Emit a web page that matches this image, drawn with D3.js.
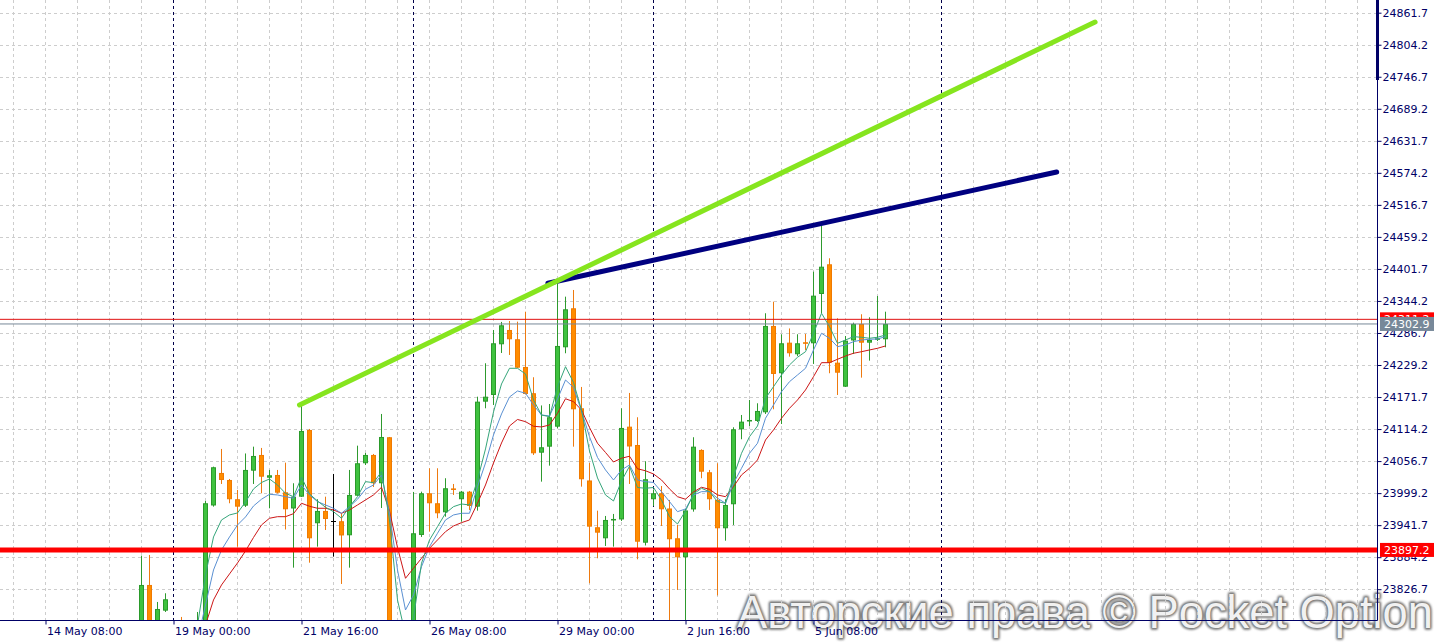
<!DOCTYPE html>
<html><head><meta charset="utf-8">
<script src="https://cdn.jsdelivr.net/npm/d3@7"></script>
<style>html,body{margin:0;padding:0;background:#fff;overflow:hidden}svg{display:block}</style>
</head><body>
<svg id="chart" width="1443" height="643"></svg>
<script>
// ---------- DATA ----------
// H4 bars; bar 0 = "14 May 08:00"; first drawn candle is bar 12
const firstBar = 12;
const opens = [23735.6,23834.3,23753.5,23788.2,23744.6,23753.5,23690.7,23717.6,23753.5,23977.0,
24035.4,24022.8,23988.2,23976.7,24039.5,24067.7,24026.9,24031.8,24000.7,23971.6,
23992.8,24112.6,23945.1,23967.2,23949.7,23948.7,23923.5,23994.6,24052.8,24067.7,
24016.9,24099.5,23681.7,23717.6,23699.7,23924.1,23998.9,23981.0,23964.8,24007.6,
23988.2,24001.8,23974.9,24163.4,24175.4,24266.4,24292.1,24275.4,24225.7,24178.5,
24071.8,24082.6,24118.5,24261.0,24331.0,24151.5,24021.9,23937.9,23918.1,23950.1,
23951.9,24118.5,24085.6,23910.2,23988.2,23998.9,23971.6,23918.1,23884.0,23969.9,
24076.7,24036.6,23986.9,23936.1,23979.2,24113.8,24128.2,24128.8,24144.3,24299.3,
24214.4,24269.3,24248.5,24270.0,24268.2,24356.7,24410.0,24233.4,24190.3,24273.2,
24302.9,24269.3,24275.4,24275.4];
const highs = [23886.9,23888.2,23803.8,23819.4,23762.5,23776.9,23735.6,23785.8,23985.1,24046.7,
24078.5,24024.6,24004.9,24070.4,24082.6,24080.3,24040.8,24040.8,24053.9,24016.9,
24157.4,24114.4,23988.2,23992.8,24033.6,23963.6,24040.8,24084.4,24071.3,24069.5,
24141.3,24100.0,23735.6,23753.5,24001.3,24001.8,24043.8,24043.8,24025.9,24015.6,
24003.1,24003.1,24172.3,24232.3,24292.1,24306.5,24308.2,24307.0,24324.9,24207.2,
24156.6,24159.2,24375.9,24351.9,24363.9,24189.8,24053.3,23967.7,23958.2,23961.8,
24151.5,24179.0,24135.4,24056.4,24005.8,24012.0,23986.9,23942.0,23970.7,24099.5,
24077.9,24040.8,24052.8,23988.2,24117.4,24139.5,24166.4,24160.5,24322.1,24342.9,
24284.4,24294.8,24284.4,24284.9,24396.7,24478.8,24420.8,24313.1,24281.3,24305.2,
24320.3,24314.9,24353.1,24324.9];
const lows = [23717.6,23708.6,23735.6,23785.8,23699.7,23690.7,23672.7,23699.7,23735.6,23974.9,
24015.6,23981.0,23903.1,23974.3,24015.6,23998.9,23972.0,23998.6,23933.9,23865.4,
23992.3,23874.3,23903.1,23933.0,23885.1,23836.1,23865.4,23994.1,24049.7,24010.2,
23972.5,23663.8,23645.8,23663.8,23681.7,23920.5,23930.0,23954.1,23956.9,23995.9,
23947.9,23969.0,23967.7,24151.5,24157.4,24250.8,24247.2,24223.9,24176.3,24067.7,
24019.8,24048.5,24115.6,24250.3,24082.6,24010.8,23837.4,23882.2,23904.3,23903.1,
23949.2,24015.6,23880.4,23905.2,23976.1,23940.2,23762.5,23825.3,23762.5,23965.9,
24025.9,23969.0,23815.5,23913.8,23942.0,24095.9,24119.7,24127.0,24141.3,24149.7,
24123.3,24244.2,24245.4,24256.2,24231.1,24322.1,24214.4,24175.4,24189.8,24249.0,
24206.5,24237.0,24272.3,24261.0];
const closes = [23834.3,23744.6,23791.2,23808.6,23717.6,23708.6,23717.6,23757.1,23981.0,24045.6,
24022.8,23988.2,23974.9,24040.8,24065.9,24028.7,24031.2,24000.0,23970.2,23992.8,
24110.8,23918.1,23967.2,23952.8,23949.7,23923.2,23995.9,24052.8,24067.7,24016.9,
24100.0,23699.7,23708.6,23699.7,23927.1,23998.9,23981.0,23963.0,24007.9,24005.8,
24001.8,23976.1,24163.4,24172.3,24268.2,24300.5,24275.4,24224.4,24177.2,24070.7,
24081.5,24135.4,24263.4,24329.2,24149.7,24024.1,23939.0,23928.2,23951.0,23952.8,
24116.2,24082.9,23912.0,24024.1,23998.9,23970.2,23916.4,23884.0,23968.1,24082.6,
24037.7,23988.2,23936.1,23977.9,24113.8,24127.5,24130.5,24146.7,24299.3,24213.1,
24268.2,24250.3,24268.2,24268.2,24353.7,24405.7,24233.4,24215.4,24272.9,24302.9,
24269.3,24274.1,24277.2,24302.9];

// moving averages, starting at bar 19
const maStart = 19;
const maFast = [23762.5,23852.3,23920.5,23951.0,23960.0,23963.6,23983.3,24006.7,24018.3,24024.6,
24013.8,23998.9,23992.8,24027.7,23997.7,23985.1,23973.8,23965.9,23954.1,23974.9,
23992.8,24019.8,24018.0,24037.7,23951.0,23807.4,23744.6,23775.1,23873.3,23915.1,
23939.0,23963.0,23974.9,23979.7,23977.9,24022.8,24078.5,24144.9,24195.1,24223.3,
24223.3,24213.1,24166.4,24139.5,24136.4,24190.3,24226.2,24197.8,24148.5,24074.9,
24026.4,23995.9,23985.1,24021.0,24047.4,24009.3,24007.9,24009.3,23986.9,23956.9,
23943.8,23967.2,23997.7,24007.9,24001.8,23983.9,23981.0,24028.7,24070.7,24100.5,
24119.7,24169.5,24190.3,24211.3,24229.3,24243.1,24253.1,24286.2,24322.1,24298.0,
24268.2,24274.1,24280.1,24279.0,24277.2,24279.0,24283.1];
const maMid = [23735.6,23798.4,23861.2,23897.1,23920.5,23942.0,23956.4,23976.1,23988.2,23997.1,
23995.9,23992.8,23990.0,24013.8,23995.9,23983.9,23977.9,23972.0,23963.0,23974.9,
23988.2,24006.1,24013.8,24031.8,23963.6,23861.2,23789.4,23816.4,23867.2,23903.1,
23927.1,23951.0,23960.0,23963.0,23963.0,24010.8,24053.3,24103.6,24141.3,24171.8,
24182.6,24178.5,24157.4,24139.5,24137.7,24168.2,24202.3,24188.9,24146.7,24100.5,
24063.2,24040.8,24022.8,24040.8,24049.7,24022.8,24019.8,24018.3,24001.8,23983.9,
23965.9,23970.7,23995.9,24001.8,24001.8,23990.0,23981.0,24016.9,24043.8,24070.7,
24088.7,24133.6,24157.4,24181.3,24199.3,24211.3,24223.3,24256.2,24286.2,24277.2,
24262.1,24265.2,24271.1,24274.1,24275.4,24275.9,24280.1];
const maSlow = [23699.7,23762.5,23807.4,23834.3,23854.1,23873.8,23895.3,23919.6,23942.0,23954.1,
23956.9,23956.9,23962.3,23981.0,23975.6,23972.0,23972.0,23969.0,23963.0,23969.0,
23977.9,23986.9,23995.9,24009.7,23967.2,23901.6,23846.3,23864.3,23882.2,23900.2,
23915.1,23930.0,23940.2,23946.2,23951.0,23981.0,24013.8,24053.3,24089.2,24119.7,
24131.4,24127.5,24119.2,24118.0,24121.5,24142.5,24168.6,24163.4,24148.5,24117.1,
24088.7,24072.2,24055.1,24061.8,24065.4,24042.9,24039.3,24033.6,24022.8,24006.7,
23992.8,23988.2,24001.3,24009.7,24006.1,23995.9,23992.8,24010.8,24031.8,24043.8,
24058.7,24094.6,24112.6,24133.6,24151.5,24166.4,24184.4,24208.3,24233.4,24233.4,
24239.5,24245.4,24250.3,24253.1,24256.2,24259.2,24263.4];

const priceTicks = [24861.7,24804.2,24746.7,24689.2,24631.7,24574.2,24516.7,24459.2,24401.7,24344.2,
24286.7,24229.2,24171.7,24114.2,24056.7,23999.2,23941.7,23884.2,23826.7];
const dateTickBars = [0,16,32,48,64,80,96];
const dateTickLabels = ["14 May 08:00","19 May 00:00","21 May 16:00","26 May 08:00","29 May 00:00","2 Jun 16:00","5 Jun 08:00"];
const separatorBars = [16,46,76,112];

const supportLevel = 23897.2;
const bidPrice = 24302.9;
const askPrice = 24311.2;
const greenTrendBars = [31.75,131.2], greenTrendPrices = [24157.4,24845.0];
const navyTrendBars = [62.8,126.4], navyTrendPrices = [24375.9,24575.7];
const watermark = "Авторские права © Pocket Option";

// ---------- LAYOUT ----------
const W = 1443, H = 643, plotW = 1377, plotH = 620;
const svg = d3.select("#chart");
const x = d3.scaleLinear().domain([0, 100]).range([45.5, 845.5]);
const y = d3.scaleLinear().domain([23826.7, 24861.7]).range([589.2, 12.7]);
const axisColor = "#000066";
const font = "DejaVu Sans, Verdana, sans-serif";

svg.append("rect").attr("width", W).attr("height", H).attr("fill", "#fff");

const defs = svg.append("defs");
defs.append("clipPath").attr("id", "plotclip").append("rect")
  .attr("x", 0).attr("y", 0).attr("width", plotW).attr("height", plotH);
defs.append("filter").attr("id", "wmblur").attr("x", "-5%").attr("y", "-20%").attr("width", "110%").attr("height", "140%")
  .append("feGaussianBlur").attr("stdDeviation", 1.2);

// watermark (background layer)
const wm = svg.append("g");
[["#6f6f6f", 3.4, "url(#wmblur)"], ["none", 0, null]].forEach(([stroke, sw, filt], i) => {
  const t = wm.append("text").text(watermark)
    .attr("x", 737).attr("y", 628)
    .attr("font-family", "Liberation Sans, Arial, sans-serif")
    .attr("font-size", 47)
    .attr("textLength", 696).attr("lengthAdjust", "spacingAndGlyphs")
    .attr("fill", i === 0 ? "#7a7a7a" : "#f1f1f1")
    .attr("stroke", stroke).attr("stroke-width", sw)
    .attr("stroke-linejoin", "round");
  if (filt) t.attr("filter", filt);
});

const plot = svg.append("g").attr("clip-path", "url(#plotclip)");

// grid
const gridBars = d3.range(-4, 168, 4);
plot.append("g").selectAll("line").data(gridBars).join("line")
  .attr("x1", d => x(d)).attr("x2", d => x(d)).attr("y1", 0).attr("y2", plotH)
  .attr("stroke", "#cdcdcd").attr("stroke-width", 1).attr("stroke-dasharray", "3,3");
plot.append("g").selectAll("line").data(priceTicks).join("line")
  .attr("x1", 0).attr("x2", plotW)
  .attr("y1", d => Math.round(y(d)) + 0.5).attr("y2", d => Math.round(y(d)) + 0.5)
  .attr("stroke", "#cdcdcd").attr("stroke-width", 1).attr("stroke-dasharray", "3,3");

// period separators
plot.append("g").selectAll("line").data(separatorBars).join("line")
  .attr("x1", d => x(d)).attr("x2", d => x(d)).attr("y1", 0).attr("y2", plotH)
  .attr("stroke", "#00004a").attr("stroke-width", 1).attr("stroke-dasharray", "3,3");

// candles
const candles = opens.map((o, k) => ({ bar: firstBar + k, o, h: highs[k], l: lows[k], c: closes[k] }));
const cg = plot.append("g");
candles.forEach(d => {
  const cx = x(d.bar);
  const doji = Math.abs(d.o - d.c) < 0.05;
  const up = d.c > d.o;
  const wickCol = doji ? "#000" : (up ? "#2e9a2e" : "#ee7a10");
  cg.append("line").attr("x1", cx).attr("x2", cx).attr("y1", y(d.h)).attr("y2", y(d.l))
    .attr("stroke", wickCol).attr("stroke-width", 1);
  if (doji) {
    cg.append("line").attr("x1", cx - 2.5).attr("x2", cx + 2.5)
      .attr("y1", Math.round(y(d.o)) + 0.5).attr("y2", Math.round(y(d.o)) + 0.5)
      .attr("stroke", "#000").attr("stroke-width", 1);
  } else {
    const top = y(Math.max(d.o, d.c)), bot = y(Math.min(d.o, d.c));
    cg.append("rect").attr("x", cx - 2).attr("width", 4)
      .attr("y", top + 0.5).attr("height", Math.max(0.5, bot - top - 1))
      .attr("fill", up ? "#3fc23f" : "#ff8c00")
      .attr("stroke", up ? "#2a9a2a" : "#f07a00").attr("stroke-width", 1);
  }
});

// moving averages
const maLine = d3.line().x((d, i) => x(maStart + i)).y(d => y(d));
[[maSlow, "#cc1616"], [maMid, "#5a90d2"], [maFast, "#35a57a"]].forEach(([arr, col]) => {
  plot.append("path").datum(arr).attr("d", maLine)
    .attr("fill", "none").attr("stroke", col).attr("stroke-width", 1);
});

// horizontal levels
const hl = plot.append("g");
hl.append("line").attr("x1", 0).attr("x2", plotW).attr("y1", y(askPrice)).attr("y2", y(askPrice))
  .attr("stroke", "#e01010").attr("stroke-width", 1);
hl.append("line").attr("x1", 0).attr("x2", plotW).attr("y1", y(bidPrice)).attr("y2", y(bidPrice))
  .attr("stroke", "#778899").attr("stroke-width", 1);
hl.append("line").attr("x1", 0).attr("x2", plotW).attr("y1", y(supportLevel)).attr("y2", y(supportLevel))
  .attr("stroke", "#ff0000").attr("stroke-width", 5);

// trendlines
const tl = plot.append("g");
tl.append("line")
  .attr("x1", x(navyTrendBars[0])).attr("y1", y(navyTrendPrices[0]))
  .attr("x2", x(navyTrendBars[1])).attr("y2", y(navyTrendPrices[1]))
  .attr("stroke", "#000080").attr("stroke-width", 5).attr("stroke-linecap", "round");
tl.append("line")
  .attr("x1", x(greenTrendBars[0])).attr("y1", y(greenTrendPrices[0]))
  .attr("x2", x(greenTrendBars[1])).attr("y2", y(greenTrendPrices[1]))
  .attr("stroke", "#86e51e").attr("stroke-width", 5).attr("stroke-linecap", "round");

// axes lines
svg.append("line").attr("x1", 0).attr("x2", plotW + 0.5).attr("y1", plotH + 0.5).attr("y2", plotH + 0.5)
  .attr("stroke", axisColor).attr("stroke-width", 1);
svg.append("line").attr("x1", plotW + 0.5).attr("x2", plotW + 0.5).attr("y1", 0).attr("y2", plotH + 0.5)
  .attr("stroke", axisColor).attr("stroke-width", 1);
svg.append("rect").attr("x", plotW - 1).attr("y", 0).attr("width", 3).attr("height", 80).attr("fill", axisColor);

// right axis
const yAxis = d3.axisRight(y).tickValues(priceTicks).tickSize(4).tickSizeOuter(0).tickPadding(1)
  .tickFormat(d => d.toFixed(1));
const ya = svg.append("g").attr("transform", `translate(${plotW + 0.5},0)`).call(yAxis);
ya.select(".domain").remove();
ya.selectAll(".tick line").attr("stroke", axisColor);
ya.selectAll(".tick text").attr("fill", axisColor).attr("font-family", font).attr("font-size", 11);

// bottom axis
const xAxis = d3.axisBottom(x).tickValues(dateTickBars).tickSize(4).tickSizeOuter(0).tickPadding(3)
  .tickFormat((d, i) => dateTickLabels[i]);
const xa = svg.append("g").attr("transform", `translate(0,${plotH + 0.5})`).call(xAxis);
xa.select(".domain").remove();
xa.selectAll(".tick line").attr("stroke", axisColor);
xa.selectAll(".tick text").attr("fill", axisColor).attr("font-family", font).attr("font-size", 11)
  .attr("text-anchor", "start").attr("x", 1);

// price labels
function priceLabel(p, bg) {
  const g = svg.append("g").attr("transform", `translate(${plotW + 3},${y(p)})`);
  g.append("rect").attr("x", 0).attr("y", -7).attr("width", 54).attr("height", 14).attr("fill", bg);
  g.append("text").text(p.toFixed(1)).attr("x", 4).attr("y", 0).attr("dy", "0.36em")
    .attr("fill", "#fff").attr("font-family", font).attr("font-size", 11);
}
priceLabel(askPrice, "#ff0000");
priceLabel(bidPrice, "#778899");
priceLabel(supportLevel, "#ff0000");
</script>
</body></html>
